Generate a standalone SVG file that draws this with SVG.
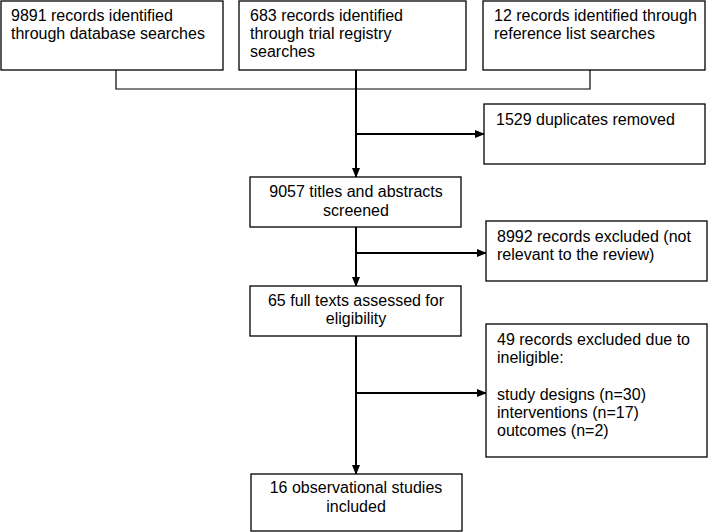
<svg xmlns="http://www.w3.org/2000/svg" width="709" height="532" viewBox="0 0 709 532">
<style>
.box{fill:#fff;stroke:#000;stroke-width:1.3}
text{font-family:"Liberation Sans",Arial,sans-serif;font-size:16px;fill:#000}
.c{text-anchor:middle}
.ln{fill:none;stroke:#000;stroke-width:2}
.thin{fill:none;stroke:#000;stroke-width:1.2}
</style>
<defs>
<marker id="ah" markerWidth="10" markerHeight="10" refX="9" refY="5" orient="auto" markerUnits="userSpaceOnUse">
<path d="M0,1 L10,5 L0,9 Z" fill="#000"/>
</marker>
</defs>
<rect width="709" height="532" fill="#fff"/>
<g id="connectors">
<path class="thin" d="M116,70 V89 H590 V70"/>
<path class="ln" d="M356,70 V177" marker-end="url(#ah)"/>
<path class="ln" d="M356,134 H484" marker-end="url(#ah)"/>
<path class="ln" d="M356,227 V286" marker-end="url(#ah)"/>
<path class="ln" d="M356,253 H486" marker-end="url(#ah)"/>
<path class="ln" d="M356,336 V474" marker-end="url(#ah)"/>
<path class="ln" d="M356,393 H486" marker-end="url(#ah)"/>
</g>
<g id="n1">
<rect class="box" x="1" y="1" width="222" height="69"/>
<text x="11" y="21">9891 records identified</text>
<text x="11" y="39">through database searches</text>
</g>
<g id="n2">
<rect class="box" x="239" y="1" width="227" height="69"/>
<text x="250" y="21">683 records identified</text>
<text x="250" y="39">through trial registry</text>
<text x="250" y="57">searches</text>
</g>
<g id="n3">
<rect class="box" x="483" y="1" width="222" height="69"/>
<text x="494" y="21">12 records identified through</text>
<text x="494" y="39">reference list searches</text>
</g>
<g id="n4">
<rect class="box" x="484" y="104" width="221" height="60"/>
<text x="496" y="125">1529 duplicates removed</text>
</g>
<g id="n5">
<rect class="box" x="250" y="177" width="211" height="50"/>
<text class="c" x="356" y="197">9057 titles and abstracts</text>
<text class="c" x="356" y="216">screened</text>
</g>
<g id="n6">
<rect class="box" x="486" y="221" width="221" height="60"/>
<text x="497" y="242">8992 records excluded (not</text>
<text x="497" y="260">relevant to the review)</text>
</g>
<g id="n7">
<rect class="box" x="250" y="286" width="211" height="50"/>
<text class="c" x="356" y="306">65 full texts assessed for</text>
<text class="c" x="356" y="324">eligibility</text>
</g>
<g id="n8">
<rect class="box" x="486" y="324" width="221" height="133"/>
<text x="497" y="345">49 records excluded due to</text>
<text x="497" y="363">ineligible:</text>
<text x="497" y="400">study designs (n=30)</text>
<text x="497" y="418">interventions (n=17)</text>
<text x="497" y="436">outcomes (n=2)</text>
</g>
<g id="n9">
<rect class="box" x="251" y="474" width="211" height="57"/>
<text class="c" x="356" y="493">16 observational studies</text>
<text class="c" x="356" y="512">included</text>
</g>
</svg>
